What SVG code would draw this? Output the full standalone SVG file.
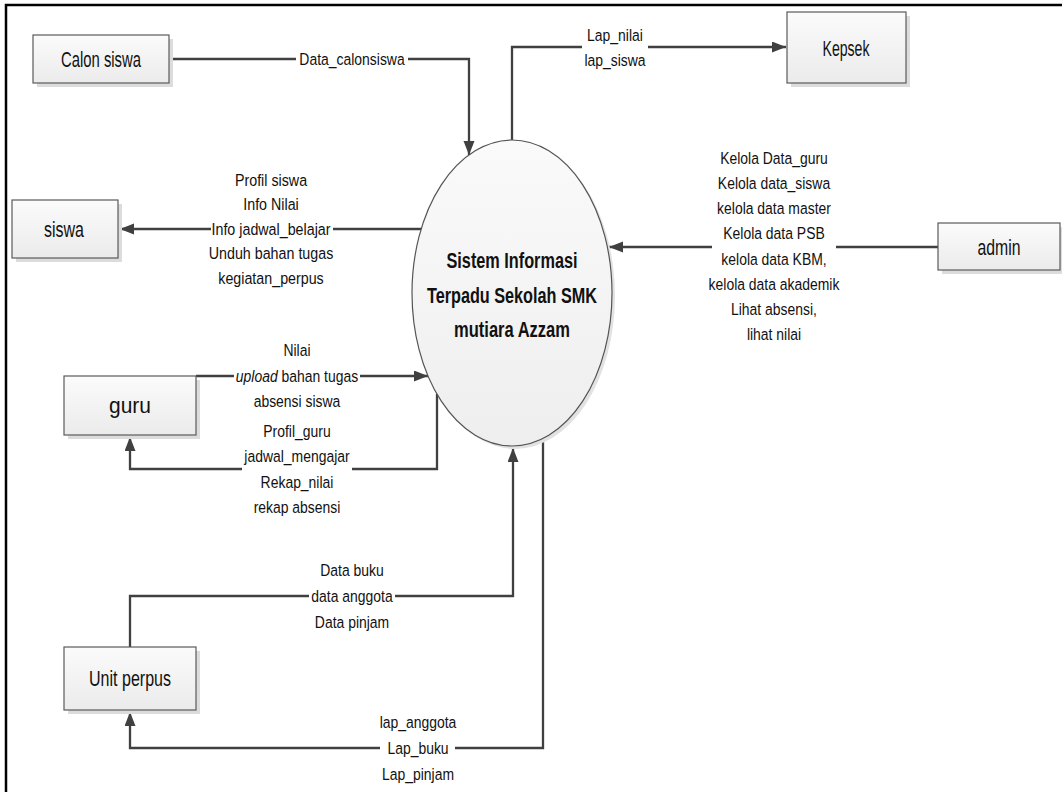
<svg xmlns="http://www.w3.org/2000/svg" width="1062" height="792" viewBox="0 0 1062 792">
<style>
.frame{stroke:#000;stroke-width:2.5;fill:none}
.box{fill:url(#boxg);stroke:#5a5a5a;stroke-width:1.2}
.shadow{fill:#dcdcdc}
.bl{font-family:"Liberation Sans",Arial,sans-serif;font-size:22px;fill:#111;text-anchor:middle}
.title{font-family:"Liberation Sans",Arial,sans-serif;font-size:22px;font-weight:bold;fill:#111;text-anchor:middle}
.lbl{font-family:"Liberation Sans",Arial,sans-serif;font-size:17px;fill:#111;text-anchor:middle}
.flow{fill:none;stroke:#404040;stroke-width:2.3;marker-end:url(#arr)}
</style>
<defs>
<linearGradient id="boxg" x1="0" y1="0" x2="0" y2="1">
<stop offset="0" stop-color="#fbfbfb"/>
<stop offset="1" stop-color="#ebebeb"/>
</linearGradient>
<linearGradient id="ellg" x1="0" y1="0" x2="0" y2="1">
<stop offset="0" stop-color="#fafafa"/>
<stop offset="1" stop-color="#eeeeee"/>
</linearGradient>
<marker id="arr" markerUnits="userSpaceOnUse" markerWidth="16" markerHeight="12" refX="14" refY="5.5" orient="auto">
<path d="M0,0 L14,5.5 L0,11 z" fill="#404040"/>
</marker>
</defs>
<rect width="1062" height="792" fill="#fff"/>
<path class="frame" d="M6,792 V5 H1062"/>

<g id="connectors">
<path class="flow" d="M169,59 H296 M408,59 H469 V155"/>
<path class="flow" d="M512,140 V47 H582 M648,47 H786"/>
<path class="flow" d="M421,229 H333 M211,229 H120"/>
<path class="flow" d="M938,247 H836 M712,247 H609"/>
<path class="flow" d="M196,376 H234 M360,376 H428"/>
<path class="flow" d="M437,394 V469 H352 M242,469 H130 V437"/>
<path class="flow" d="M130,647 V596 H309 M395,596 H513 V448"/>
<path class="flow" d="M543,438 V748 H455 M380,748 H130 V712"/>
</g>

<g id="process">
<ellipse cx="515" cy="296" rx="100" ry="153" fill="#e2e2e2"/>
<ellipse cx="512" cy="293" rx="100" ry="153" fill="url(#ellg)" stroke="#555" stroke-width="1.2"/>
<text class="title" x="512" y="268" textLength="131" lengthAdjust="spacingAndGlyphs">Sistem Informasi</text>
<text class="title" x="512" y="303" textLength="170" lengthAdjust="spacingAndGlyphs">Terpadu Sekolah SMK</text>
<text class="title" x="512" y="337" textLength="116" lengthAdjust="spacingAndGlyphs">mutiara Azzam</text>
</g>

<g id="calon-siswa">
<rect class="shadow" x="37" y="39" width="136" height="48"/>
<rect class="box" x="33" y="35" width="136" height="48"/>
<text class="bl" x="101" y="67" textLength="80" lengthAdjust="spacingAndGlyphs">Calon siswa</text>
</g>

<g id="kepsek">
<rect class="shadow" x="791" y="16" width="119" height="71"/>
<rect class="box" x="787" y="12" width="119" height="71"/>
<text class="bl" x="846" y="56" textLength="47" lengthAdjust="spacingAndGlyphs">Kepsek</text>
</g>

<g id="siswa">
<rect class="shadow" x="16" y="204" width="106" height="58"/>
<rect class="box" x="12" y="200" width="106" height="58"/>
<text class="bl" x="64" y="237" textLength="40" lengthAdjust="spacingAndGlyphs">siswa</text>
</g>

<g id="admin">
<rect class="shadow" x="942" y="227" width="122" height="47"/>
<rect class="box" x="938" y="223" width="122" height="47"/>
<text class="bl" x="999" y="255" textLength="43" lengthAdjust="spacingAndGlyphs">admin</text>
</g>

<g id="guru">
<rect class="shadow" x="68" y="380" width="132" height="59"/>
<rect class="box" x="64" y="376" width="132" height="59"/>
<text class="bl" x="130" y="413" textLength="42" lengthAdjust="spacingAndGlyphs">guru</text>
</g>

<g id="unit-perpus">
<rect class="shadow" x="68" y="651" width="132" height="63"/>
<rect class="box" x="64" y="647" width="132" height="63"/>
<text class="bl" x="130" y="686" textLength="82" lengthAdjust="spacingAndGlyphs">Unit perpus</text>
</g>

<g id="labels">
<g transform="translate(352 0) scale(0.82 1)"><text class="lbl" x="0" y="65">Data_calonsiswa</text></g>
<g transform="translate(615 0) scale(0.82 1)"><text class="lbl"><tspan x="0" y="41">Lap_nilai</tspan><tspan x="0" y="66">lap_siswa</tspan></text></g>
<g transform="translate(271 0) scale(0.84 1)"><text class="lbl"><tspan x="0" y="186">Profil siswa</tspan><tspan x="0" y="210.5">Info Nilai</tspan><tspan x="0" y="235">Info jadwal_belajar</tspan><tspan x="0" y="259.5">Unduh bahan tugas</tspan><tspan x="0" y="284">kegiatan_perpus</tspan></text></g>
<g transform="translate(774 0) scale(0.82 1)"><text class="lbl"><tspan x="0" y="164">Kelola Data_guru</tspan><tspan x="0" y="189">Kelola data_siswa</tspan><tspan x="0" y="214">kelola data master</tspan><tspan x="0" y="239">Kelola data PSB</tspan><tspan x="0" y="265">kelola data KBM,</tspan><tspan x="0" y="290">kelola data akademik</tspan><tspan x="0" y="315">Lihat absensi,</tspan><tspan x="0" y="340">lihat nilai</tspan></text></g>
<g transform="translate(297 0) scale(0.82 1)"><text class="lbl"><tspan x="0" y="356">Nilai</tspan><tspan x="0" y="382"><tspan font-style="italic">upload</tspan> bahan tugas</tspan><tspan x="0" y="407">absensi siswa</tspan></text></g>
<g transform="translate(297 0) scale(0.82 1)"><text class="lbl"><tspan x="0" y="437">Profil_guru</tspan><tspan x="0" y="462">jadwal_mengajar</tspan><tspan x="0" y="488">Rekap_nilai</tspan><tspan x="0" y="513">rekap absensi</tspan></text></g>
<g transform="translate(352 0) scale(0.82 1)"><text class="lbl"><tspan x="0" y="576">Data buku</tspan><tspan x="0" y="602">data anggota</tspan><tspan x="0" y="628">Data pinjam</tspan></text></g>
<g transform="translate(418 0) scale(0.82 1)"><text class="lbl"><tspan x="0" y="728">lap_anggota</tspan><tspan x="0" y="754">Lap_buku</tspan><tspan x="0" y="780">Lap_pinjam</tspan></text></g>
</g>
</svg>
